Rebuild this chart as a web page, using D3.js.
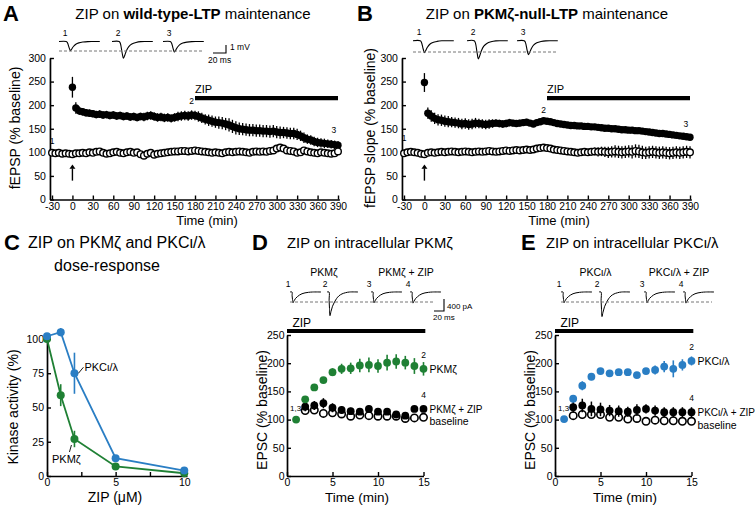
<!DOCTYPE html>
<html><head><meta charset="utf-8">
<script src="https://cdn.jsdelivr.net/npm/d3@7"></script>
<style>body{margin:0;background:#fff}svg{display:block}</style>
</head><body><svg id="c" width="756" height="506"></svg>
<script>
// ---------------- DATA ----------------
const ltpTime = [-30,-25,-20,-15,-10,-5,0,5,10,15,20,25,30,35,40,45,50,55,60,65,70,75,80,85,90,95,100,105,110,115,120,125,130,135,140,145,150,155,160,165,170,175,180,185,190,195,200,205,210,215,220,225,230,235,240,245,250,255,260,265,270,275,280,285,290,295,300,305,310,315,320,325,330,335,340,345,350,355,360,365,370,375,380,385,390];
const ltpTicks = [-30,0,30,60,90,120,150,180,210,240,270,300,330,360,390];
const ltpYTicks = [0,50,100,150,200,250,300];

const aTetanized = [null,null,null,null,null,null,238,
 194,188,186,184,183,182,180,181,179,180,
 178,179,177,178,176,177,175,176,174,176,
 175,177,178,176,174,175,173,174,172,174,
 176,177,178,177,179,178,176,173,170,168,
 166,164,163,162,160,158,155,152,150,149,
 148,147,147,146,146,145,145,144,145,143,
 142,142,141,140,140,138,135,131,128,126,
 123,121,120,119,118,117,116,115];
const aTetanizedErr = [null,null,null,null,null,null,22,
 12,9,8,8,8,8,8,8,8,8,
 8,8,8,8,8,8,8,8,8,8,
 9,9,9,9,9,9,9,9,9,9,
 10,10,10,10,10,10,11,11,11,12,
 12,12,13,13,13,14,14,14,13,13,
 13,13,13,13,13,13,13,13,13,13,
 13,12,12,12,12,12,11,11,10,10,
 10,10,10,10,9,9,9,9];
const aControl = [99,98,99,97,98,97,96,
 98,98,99,98,100,99,101,102,99,97,
 98,100,101,99,98,100,101,99,100,96,
 93,97,99,95,97,98,99,100,101,102,
 102,103,103,102,103,104,103,102,101,100,
 99,100,99,98,100,101,100,101,102,101,
 100,99,101,102,101,102,101,103,104,108,
 110,108,104,103,102,99,100,104,102,100,
 99,98,100,99,98,97,98,102];
const aControlErr = [3,3,3,3,3,3,3,
 3,3,3,3,3,3,3,3,3,3,
 3,3,3,3,3,3,3,3,3,4,
 4,4,4,4,3,3,3,3,3,3,
 3,3,3,3,3,3,3,3,3,3,
 3,3,3,3,3,3,3,3,3,3,
 3,3,3,3,3,3,3,4,4,5,
 5,5,4,4,4,4,4,5,5,4,
 4,4,4,4,4,4,4,5];

const bTetanized = [null,null,null,null,null,null,248,
 183,177,172,169,168,166,165,164,163,162,
 160,161,159,160,162,161,160,159,160,161,
 162,161,160,161,163,162,161,162,163,164,
 162,160,163,165,167,166,165,163,161,160,
 159,158,157,157,156,156,155,155,154,154,
 153,152,151,151,150,150,149,148,148,147,
 147,146,146,145,144,143,142,141,140,140,
 139,138,137,136,135,134,133,132];
const bTetanizedErr = [null,null,null,null,null,null,20,
 12,12,12,12,12,12,12,11,11,11,
 11,11,11,11,11,10,10,10,10,9,
 8,8,8,8,8,7,7,7,7,7,
 6,6,6,6,6,6,6,6,6,6,
 5,5,5,5,5,5,5,5,5,5,
 5,5,5,5,5,5,5,5,5,5,
 5,5,5,5,5,5,5,5,5,5,
 5,5,5,5,5,5,5,5];
const bControl = [98,100,101,100,99,97,96,
 99,100,99,100,101,100,101,102,101,100,
 101,102,101,100,101,102,101,102,103,102,
 101,102,103,104,103,104,105,104,105,106,
 105,106,108,109,110,109,108,106,105,104,
 103,102,101,100,99,100,101,100,101,102,
 101,102,101,100,101,102,101,100,101,102,
 101,103,102,100,99,100,101,100,99,100,
 99,98,99,100,99,100,101,100];
const bControlErr = [3,3,3,3,3,3,3,
 3,3,3,3,3,3,3,3,3,3,
 3,3,3,3,3,3,3,3,3,3,
 3,3,3,3,3,3,3,3,3,3,
 3,3,3,4,4,4,4,4,4,5,
 6,6,6,6,6,7,7,7,8,8,
 10,10,11,12,12,13,13,13,13,13,
 14,14,14,14,13,13,13,13,13,13,
 13,13,13,13,13,13,13,13];

const cConc = [0,1,2,5,10];
const cPKCiota = [102,105,75,13,4];
const cPKCiotaErr = [2,3,15,2,1];
const cPKMzeta = [100,59,27,7,2];
const cPKMzetaErr = [0,8,6,1,1];
const cXTicks = [0,2.5,5,7.5,10];
const cXLabels = [0,5,10];
const cYTicks = [0,25,50,75,100];

const epscYTicks = [0,50,100,150,200,250];
const epscXTicks = [0,5,10,15];
const dTime = [1,2,3,4,5,6,7,8,9,10,11,12,13,14,15];
const dPKMzeta = [100,136,157,170,184,190,191,196,197,195,201,203,201,195,190];
const dPKMzetaErr = [0,4,5,5,7,9,10,12,13,12,14,13,12,14,12];
const dTime2 = [2,3,4,5,6,7,8,9,10,11,12,13,14,15];
const dPKMzetaZIP = [123,125,129,121,117,115,114,119,114,114,109,107,119,119];
const dPKMzetaZIPErr = [8,8,9,8,7,6,6,6,6,6,6,6,5,5];
const dBaseline = [116,117,111,112,110,106,108,107,106,106,106,102,103,104];
const dBaselineErr = [6,6,6,6,6,6,6,6,6,6,6,6,5,5];

const eTime = [1,2,3,4,5,6,7,8,9,10,11,12,13,14,15];
const ePKCiota = [101,137,160,176,186,182,184,184,179,186,188,194,190,197,204];
const ePKCiotaErr = [0,4,8,6,4,4,4,4,4,5,8,10,15,10,8];
const eTime2 = [2,3,4,5,6,7,8,9,10,11,12,13,14,15];
const ePKCiotaZIP = [122,125,119,118,116,115,114,117,119,116,113,113,113,113];
const ePKCiotaZIPErr = [10,12,13,12,10,10,9,10,8,9,9,9,9,9];
const eBaseline = [107,109,109,109,104,104,101,102,97,99,98,98,97,97];
const eBaselineErr = [6,8,6,6,6,6,5,5,5,5,6,6,6,6];

// sample traces (normalised waveform, ms / fraction of peak) and peak amplitudes
const fepspShape = [[0,0],[12,0],[14,-0.12],[17,-0.7],[19,-1],[21,-0.85],[24,-0.55],[28,-0.3],[33,-0.15],[40,-0.06],[48,-0.01],[56,0],[68,0]];
const aTraceAmp = [1.3,2.4,1.5];   // mV
const bTraceAmp = [1.7,2.6,2.0];   // mV
const epscShape = [[0,0],[4,0],[4.2,-0.35],[5,-0.7],[6,-1],[8,-0.82],[11,-0.6],[15,-0.42],[19,-0.28],[24,-0.16],[30,-0.08],[37,-0.03],[45,0],[62,0]];
const dTraceAmp = [360,790,360,370]; // pA
const eTraceAmp = [360,820,360,370]; // pA

// ---------------- DRAW ----------------
const FONT = '"Liberation Sans", Arial, Helvetica, sans-serif';
const svg = d3.select('#c').attr('font-family', FONT);
svg.append('rect').attr('width',756).attr('height',506).attr('fill','#fff');
const GREEN = '#1f8034', BLUE = '#2a7ec4';
const fmt = d => String(d).replace('\u2212','-');

function styleAxis(g, fs){
  g.attr('font-family', FONT).attr('font-size', fs);
  g.select('.domain').attr('stroke','#000').attr('stroke-width',1.7);
  g.selectAll('.tick line').attr('stroke','#000').attr('stroke-width',1.4);
  g.selectAll('.tick text').attr('fill','#000');
}
function series(g, xs, ys, es, x, y, o){
  const pts = xs.map((t,i)=>({t, v:ys[i], e: es ? es[i] : 0})).filter(d=>d.v!=null);
  g.append('g').selectAll('line').data(pts.filter(d=>d.e)).join('line')
    .attr('x1',d=>x(d.t)).attr('x2',d=>x(d.t))
    .attr('y1',d=>y(d.v-d.e)).attr('y2',d=>y(d.v+d.e))
    .attr('stroke',o.ec).attr('stroke-width',o.ew||1.4);
  g.append('g').selectAll('circle').data(pts).join('circle')
    .attr('cx',d=>x(d.t)).attr('cy',d=>y(d.v)).attr('r',o.r)
    .attr('fill',o.fill).attr('stroke',o.stroke||'none').attr('stroke-width',o.sw||0);
}
function text(x,y,s,fs,opts={}){
  const t = svg.append('text').attr('x',x).attr('y',y).attr('font-size',fs).attr('fill','#000').text(s);
  if(opts.anchor) t.attr('text-anchor',opts.anchor);
  if(opts.bold) t.attr('font-weight','bold');
  return t;
}
function rotText(cx,cy,s,fs){
  svg.append('text').attr('transform',`translate(${cx},${cy}) rotate(-90)`)
    .attr('text-anchor','middle').attr('dy','0.35em').attr('font-size',fs).attr('fill','#000').text(s);
}
function titleParts(x,y,parts,fs,anchor){
  const t = svg.append('text').attr('x',x).attr('y',y).attr('font-size',fs).attr('fill','#000')
    .attr('text-anchor',anchor||'start');
  parts.forEach(p=>t.append('tspan').attr('font-weight',p[1]?'bold':'normal').text(p[0]));
}
function trace(shape, x0, y0, amp, pxMs, pxUnit, w){
  const line = d3.line().x(d=>x0+d[0]*pxMs).y(d=>y0 - d[1]*amp*pxUnit).curve(d3.curveCatmullRom);
  svg.append('path').attr('d',line(shape)).attr('fill','none').attr('stroke','#000').attr('stroke-width',w||1.1);
}
function dashed(x1,x2,y){
  svg.append('line').attr('x1',x1).attr('x2',x2).attr('y1',y).attr('y2',y)
    .attr('stroke','#777').attr('stroke-width',1).attr('stroke-dasharray','3,2');
}

// ---- Panels A and B ----
function ltpPanel(ox, tet, tetErr, ctl, ctlErr, amps, cfg){
  const pxMin = 286/420;
  const x = d3.scaleLinear().domain([-33,392]).range([52+ox-3*pxMin, 338+ox+2*pxMin]);
  const y = d3.scaleLinear().domain([0,300]).range([199.5,58]);
  const gx = svg.append('g').attr('transform',`translate(0,${y(0)})`)
    .call(d3.axisBottom(x).tickValues(ltpTicks).tickFormat(fmt).tickSize(-4).tickSizeOuter(0).tickPadding(3));
  styleAxis(gx, 10.3);
  const gy = svg.append('g').attr('transform',`translate(${x(-33)},0)`)
    .call(d3.axisLeft(y).tickValues(ltpYTicks).tickSize(-4).tickSizeOuter(0).tickPadding(4));
  styleAxis(gy, 10.5);
  const g = svg.append('g');
  series(g, ltpTime, tet, tetErr, x, y, {r:3.7, fill:'#000', ec:'#000', ew:1.3});
  series(g, ltpTime, ctl, ctlErr, x, y, {r:3.3, fill:'#fff', stroke:'#000', sw:1.4, ec:'#000', ew:1.3});
  // ZIP bar
  svg.append('line').attr('x1',x(180)).attr('x2',x(390)).attr('y1',y(215)).attr('y2',y(215))
    .attr('stroke','#000').attr('stroke-width',4.2);
  text(x(180),y(226),'ZIP',11);
  // arrow
  svg.append('line').attr('x1',x(0)).attr('x2',x(0)).attr('y1',y(40)).attr('y2',y(66))
    .attr('stroke','#000').attr('stroke-width',1.4);
  svg.append('path').attr('d',`M${x(0)-3},${y(65)} L${x(0)},${y(74)} L${x(0)+3},${y(65)} Z`).attr('fill','#000');
  // numbers
  text(x(-30),y(cfg.n1),'1',8.5,{anchor:'middle'});
  text(x(175),y(cfg.n2),'2',8.5,{anchor:'middle'});
  text(x(384),y(cfg.n3),'3',8.5,{anchor:'middle'});
  // traces
  cfg.tx.forEach((tx,i)=>{
    trace(fepspShape, tx, cfg.ty, amps[i], 0.6, 7);
    text(tx+6, cfg.ty-6, String(i+1), 8.5, {anchor:'middle'});
  });
  dashed(cfg.tx[0], cfg.tx[2]+41, cfg.dy);
  rotText(cfg.ytx, 128, cfg.ytitle, 14);
  text((x(-30)+x(390))/2+12, 225, 'Time (min)', 13, {anchor:'middle'});
}
ltpPanel(0, aTetanized, aTetanizedErr, aControl, aControlErr, aTraceAmp,
  {n1:117, n2:202, n3:140, tx:[59,112,163], ty:41.5, dy:51, ytx:15, ytitle:'fEPSP (% baseline)'});
ltpPanel(352, bTetanized, bTetanizedErr, bControl, bControlErr, bTraceAmp,
  {n1:125, n2:184, n3:154, tx:[413,467,517], ty:40.7, dy:52, ytx:370, ytitle:'fEPSP slope (% baseline)'});
// scale bar A
svg.append('path').attr('d','M213,53 L226,53 L226,45').attr('fill','none').attr('stroke','#000').attr('stroke-width',1.1);
text(230,50,'1 mV',8.5);
text(208,63,'20 ms',8.5);
// titles
text(3,21,'A',22,{bold:true});
text(357,21,'B',22,{bold:true});
titleParts(193,19,[['ZIP on ',0],['wild-type-LTP',1],[' maintenance',0]],15,'middle');
titleParts(547,19,[['ZIP on ',0],['PKMζ-null-LTP',1],[' maintenance',0]],15,'middle');

// ---- Panel C ----
{
  const x = d3.scaleLinear().domain([0,10.2]).range([47,187]);
  const y = d3.scaleLinear().domain([0,104]).range([476,333.5]);
  const gx = svg.append('g').attr('transform',`translate(0,${y(0)})`)
    .call(d3.axisBottom(x).tickValues(cXTicks).tickSize(-4).tickSizeOuter(0).tickPadding(2.5)
      .tickFormat(d=>cXLabels.includes(d)?d:''));
  styleAxis(gx, 10.5);
  const gy = svg.append('g').attr('transform',`translate(${x(0)},0)`)
    .call(d3.axisLeft(y).tickValues(cYTicks).tickSize(-4).tickSizeOuter(0).tickPadding(3));
  styleAxis(gy, 10.5);
  const line = d3.line().x((d,i)=>x(cConc[i])).y(d=>y(d));
  svg.append('path').attr('d',line(cPKMzeta)).attr('fill','none').attr('stroke',GREEN).attr('stroke-width',1.8);
  svg.append('path').attr('d',line(cPKCiota)).attr('fill','none').attr('stroke',BLUE).attr('stroke-width',1.8);
  const g = svg.append('g');
  series(g, cConc, cPKMzeta, cPKMzetaErr, x, y, {r:4, fill:GREEN, ec:GREEN, ew:1.6});
  series(g, cConc, cPKCiota, cPKCiotaErr, x, y, {r:4, fill:BLUE, ec:BLUE, ew:1.6});
  svg.append('line').attr('x1',x(2)+4).attr('y1',y(75)).attr('x2',x(2)+9).attr('y2',y(75)-6).attr('stroke','#000').attr('stroke-width',0.9);
  text(x(2)+10, y(75)-2, 'PKCι/λ', 11);
  svg.append('line').attr('x1',x(2)-3).attr('y1',y(27)+6).attr('x2',x(2)-5).attr('y2',y(27)+13).attr('stroke','#000').attr('stroke-width',0.9);
  text(52, y(27)+24, 'PKMζ', 11);
  rotText(13, 407, 'Kinase activity (%)', 14);
  text(115, 502, 'ZIP (μM)', 14, {anchor:'middle'});
  text(4,250,'C',22,{bold:true});
  text(28,248,'ZIP on PKMζ and PKCι/λ',16);
  text(107,271,'dose-response',16,{anchor:'middle'});
}

// ---- Panels D and E ----
function epscPanel(x0, color, t1, v1, e1, t2, v2, e2, v3, e3, amps, cfg){
  const x = d3.scaleLinear().domain([0,15]).range([x0, x0+136.5]);
  const y = d3.scaleLinear().domain([0,250]).range([476,335]);
  const gx = svg.append('g').attr('transform',`translate(0,${y(0)})`)
    .call(d3.axisBottom(x).tickValues(epscXTicks).tickSize(-4).tickSizeOuter(0).tickPadding(2.5));
  styleAxis(gx, 10.5);
  const gy = svg.append('g').attr('transform',`translate(${x(0)},0)`)
    .call(d3.axisLeft(y).tickValues(epscYTicks).tickSize(-4).tickSizeOuter(0).tickPadding(2.5));
  styleAxis(gy, 10.5);
  const g = svg.append('g');
  series(g, t2, v3, e3, x, y, {r:3.7, fill:'#fff', stroke:'#000', sw:1.6, ec:'#000', ew:1.5});
  series(g, t2, v2, e2, x, y, {r:3.9, fill:'#000', ec:'#000', ew:1.5});
  series(g, t1, v1, e1, x, y, {r:3.9, fill:color, ec:color, ew:1.6});
  // ZIP bar
  svg.append('line').attr('x1',x(0)).attr('x2',x(15.2)).attr('y1',331).attr('y2',331)
    .attr('stroke','#000').attr('stroke-width',3.8);
  text(x(0.6),327,'ZIP',12);
  // labels
  text(x(15),y(v1[14])-11,'2',8.5,{anchor:'middle'});
  text(x(15)+6,y(v1[14])+4,cfg.l1,10.5);
  text(x(15),y(v2[13])-11,'4',8.5,{anchor:'middle'});
  text(x(15)+6,y(v2[13])+4,cfg.l2,10);
  text(x(15)+6,y(v3[13])+8,'baseline',10.5);
  text(x0+3,y(117)+1,'1,3',8);
  // traces
  cfg.tx.forEach((tx,i)=>{
    trace(epscShape, tx, 292, amps[i], 0.5, 0.03, 1);
    text(tx-2, 287, String(i+1), 8.5, {anchor:'middle'});
  });
  dashed(cfg.tx[0], cfg.dx2, 302);
  text((cfg.tx[0]+cfg.tx[1]+31)/2, 276, cfg.l1, 10.5, {anchor:'middle'});
  text((cfg.tx[2]+cfg.tx[3]+31)/2, 276, cfg.l2, 10.5, {anchor:'middle'});
  rotText(x0-25, 410, 'EPSC (% baseline)', 14);
  text(x(7.7), 502, 'Time (min)', 13.5, {anchor:'middle'});
  text(cfg.lx,250,cfg.letter,22,{bold:true});
  text(cfg.ttx,248,cfg.title,14.8);
}
epscPanel(287, GREEN, dTime, dPKMzeta, dPKMzetaErr, dTime2, dPKMzetaZIP, dPKMzetaZIPErr, dBaseline, dBaselineErr, dTraceAmp,
  {l1:'PKMζ', l2:'PKMζ + ZIP', tx:[290,327,371,410], dx2:433, letter:'D', lx:252, ttx:287, title:'ZIP on intracellular PKMζ'});
epscPanel(555, BLUE, eTime, ePKCiota, ePKCiotaErr, eTime2, ePKCiotaZIP, ePKCiotaZIPErr, eBaseline, eBaselineErr, eTraceAmp,
  {l1:'PKCι/λ', l2:'PKCι/λ + ZIP', tx:[561,599,644,683], dx2:712, letter:'E', lx:521, ttx:546, title:'ZIP on intracellular PKCι/λ'});
// scale bar D
svg.append('path').attr('d','M434,311 L444,311 L444,299').attr('fill','none').attr('stroke','#000').attr('stroke-width',1.1);
text(447,309,'400 pA',8);
text(433,320,'20 ms',8);
</script></body></html>
